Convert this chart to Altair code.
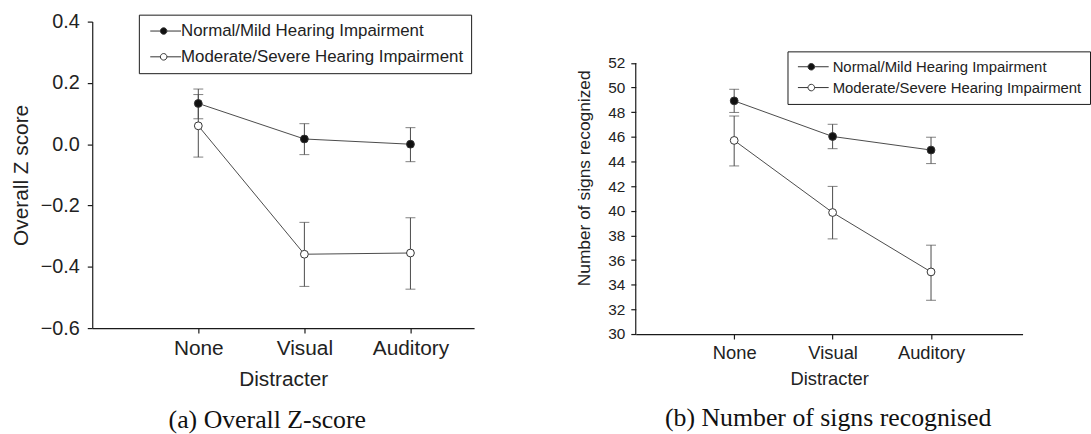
import altair as alt
import pandas as pd

conditions = ["None", "Visual", "Auditory"]
cond_pos = [1, 2, 3]
groups = ["Normal/Mild Hearing Impairment", "Moderate/Severe Hearing Impairment"]

# Panel (a): Overall Z score (mean, lower, upper)
z_normal = [0.133, 0.017, 0.000]
z_normal_lo = [0.083, -0.034, -0.057]
z_normal_hi = [0.180, 0.067, 0.054]
z_moderate = [0.060, -0.359, -0.355]
z_moderate_lo = [-0.042, -0.464, -0.473]
z_moderate_hi = [0.162, -0.255, -0.240]

# Panel (b): Number of signs recognized (mean, lower, upper)
s_normal = [48.92, 46.03, 44.93]
s_normal_lo = [47.98, 45.04, 43.83]
s_normal_hi = [49.86, 47.02, 45.97]
s_moderate = [45.71, 39.86, 35.04]
s_moderate_lo = [43.64, 37.72, 32.74]
s_moderate_hi = [47.69, 41.98, 37.21]

z_ticks = [-0.6, -0.4, -0.2, 0.0, 0.2, 0.4]
s_ticks = list(range(30, 53, 2))


def make_df(nm, nlo, nhi, mm, mlo, mhi):
    rows = []
    for g, m, lo, hi in [(groups[0], nm, nlo, nhi), (groups[1], mm, mlo, mhi)]:
        for c, p, a, b, d in zip(conditions, cond_pos, m, lo, hi):
            rows.append({"group": g, "cond": c, "pos": p, "mean": a, "lo": b, "hi": d})
    return pd.DataFrame(rows)


df_a = make_df(z_normal, z_normal_lo, z_normal_hi, z_moderate, z_moderate_lo, z_moderate_hi)
df_b = make_df(s_normal, s_normal_lo, s_normal_hi, s_moderate, s_moderate_lo, s_moderate_hi)

label_expr = " : ".join(
    [f"datum.value == {p} ? '{c}'" for p, c in zip(cond_pos[:-1], conditions[:-1])]
) + f" : '{conditions[-1]}'"

SANS = "Liberation Sans"
LINE = "#4a4a4a"
AXC = "#1a1a1a"
# legend glyph: line with a circle, drawn wider than the layout size (size=100 -> r=5)
SYM = ("M-3.1,0L-1.06,0M0.26,0L3.1,0M0.26,0"
       "A0.66,0.66,0,1,1,-1.06,0A0.66,0.66,0,1,1,0.26,0Z")


def panel(df, xdom, ydom, w, h, yticks, yfmt, ytitle, fs, caption, cap_dx, cap_off,
          legx, legy, rowpad, legfs, legoff, ylabpad, ytitlepad, xlabpad, xtitlepad,
          draw_axis_rule=None):
    x = alt.X("pos:Q", scale=alt.Scale(domain=xdom, nice=False, zero=False),
              axis=alt.Axis(values=cond_pos, labelExpr=label_expr, title="Distracter",
                            grid=False, labelFont=SANS, titleFont=SANS,
                            labelFontSize=fs["xlab"], titleFontSize=fs["xtitle"],
                            titleFontWeight="normal", labelColor="#222", titleColor="#222",
                            domainColor=AXC, tickColor=AXC, domainWidth=1.2, tickWidth=1.2,
                            tickSize=5, labelPadding=xlabpad, titlePadding=xtitlepad))
    y_axis = alt.Axis(values=yticks, format=yfmt, title=ytitle, grid=False,
                      labelFont=SANS, titleFont=SANS, labelFontSize=fs["ylab"],
                      titleFontSize=fs["ytitle"], titleFontWeight="normal",
                      labelColor="#222", titleColor="#222", domainColor=AXC, tickColor=AXC,
                      domainWidth=1.2, tickWidth=1.2, tickSize=5, labelPadding=ylabpad,
                      labelOverlap=False, labelSeparation=0,
                      titlePadding=ytitlepad, domain=draw_axis_rule is None)
    yscale = alt.Scale(domain=ydom, nice=False, zero=False)
    y = alt.Y("mean:Q", scale=yscale, axis=y_axis)

    base = alt.Chart(df)
    line = base.mark_line(color=LINE, strokeWidth=1).encode(x=x, y=y, detail="group:N")
    bars = base.mark_rule(color=LINE, strokeWidth=1).encode(
        x="pos:Q", y=alt.Y("lo:Q", scale=yscale, axis=y_axis), y2="hi:Q")
    cap_lo = base.mark_tick(color=LINE, orient="horizontal", size=10, thickness=1).encode(
        x="pos:Q", y=alt.Y("lo:Q", scale=yscale, axis=y_axis))
    cap_hi = base.mark_tick(color=LINE, orient="horizontal", size=10, thickness=1).encode(
        x="pos:Q", y=alt.Y("hi:Q", scale=yscale, axis=y_axis))
    pts = base.mark_point(shape="circle", size=62, stroke="#333", strokeWidth=1,
                          opacity=1, fillOpacity=1).encode(
        x="pos:Q", y=y,
        fill=alt.Fill("group:N", scale=alt.Scale(domain=groups, range=["#111111", "#ffffff"]),
                      legend=alt.Legend(orient="none", legendX=legx, legendY=legy, title=None,
                                        symbolType=SYM, symbolSize=100, symbolOffset=10.5,
                                        symbolStrokeColor="#333", symbolStrokeWidth=1,
                                        labelFont=SANS, labelFontSize=legfs, labelColor="#222",
                                        labelLimit=600,
                                        strokeColor=AXC, fillColor="white", padding=8,
                                        rowPadding=rowpad, labelOffset=legoff)))
    layers = [line, bars, cap_lo, cap_hi, pts]
    if draw_axis_rule is not None:
        rule_df = pd.DataFrame({"y0": [draw_axis_rule[0]], "y1": [draw_axis_rule[1]]})
        axis_rule = alt.Chart(rule_df).mark_rule(color=AXC, strokeWidth=1.2).encode(
            x=alt.datum(0), y=alt.Y("y0:Q", scale=yscale, axis=y_axis), y2="y1:Q")
        layers = layers + [axis_rule]
    return alt.layer(*layers).properties(
        width=w, height=h,
        title=alt.TitleParams(text=caption, orient="bottom", font="Liberation Serif",
                              fontSize=26, fontWeight="normal", color="#111",
                              frame="group", anchor="middle", dx=cap_dx, offset=cap_off))


left = panel(df_a, [0, 3.6], [-0.6, 0.4], 385, 309, z_ticks, ".1f", "Overall Z score",
             {"xlab": 21, "xtitle": 21, "ylab": 20, "ytitle": 21},
             "(a) Overall Z-score", -16, 18,
             47, -7, 8, 17, 7, 8, 9, 5, 10)

right = panel(df_b, [0, 3.93], [30, 55.35], 390, 315, s_ticks, "d",
              "Number of signs recognized",
              {"xlab": 18.5, "xtitle": 18.5, "ylab": 15.5, "ytitle": 17.5},
              "(b) Number of signs recognised", -1, 18,
              153, 30, 5, 15, 12, 6, 14, 5, 7, draw_axis_rule=(30, 52))

chart = alt.hconcat(left, right, spacing=102).properties(
    padding={"left": 10, "top": 10, "right": 0, "bottom": 0},
    background="white",
).resolve_scale(fill="independent").resolve_legend(fill="independent").configure_view(
    stroke=None
).configure_axis(labelOverlap=False)

chart.save("out.html", embed_options={"renderer": "svg", "actions": False})
